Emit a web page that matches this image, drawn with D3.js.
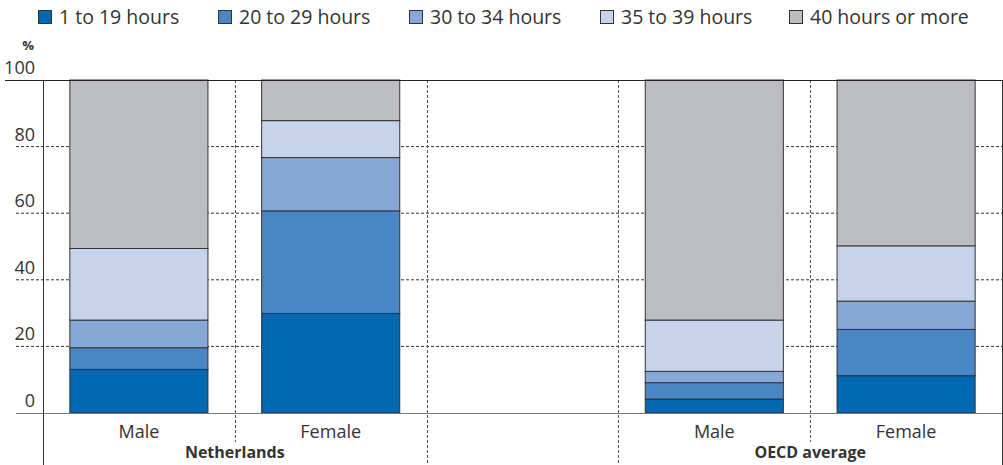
<!DOCTYPE html>
<html>
<head>
<meta charset="utf-8">
<script src="https://cdn.jsdelivr.net/npm/d3@7"></script>
<style>
  body { margin: 0; background: #fff; }
  svg text { font-family: "Open Sans", sans-serif; fill: #333; }
</style>
</head>
<body>
<div id="chart"></div>
<script>
// data (percent of employed, by usual weekly hours)
var groups = ["Netherlands", "OECD average"];
var categories = ["NL_Male", "NL_Female", "gap", "OECD_Male", "OECD_Female"];
var categoryLabels = ["Male", "Female", "", "Male", "Female"];
var series = ["1 to 19 hours", "20 to 29 hours", "30 to 34 hours", "35 to 39 hours", "40 hours or more"];
var hours1to19   = [13.1, 29.9, null, 4.2, 11.2];
var hours20to29  = [6.5, 30.8, null, 4.9, 13.9];
var hours30to34  = [8.3, 16.0, null, 3.4, 8.5];
var hours35to39  = [21.5, 11.1, null, 15.4, 16.6];
var hours40plus  = [50.6, 12.2, null, 72.1, 49.8];
var yTicks = [0, 20, 40, 60, 80, 100];

var colors = ["#0068b3", "#4a86c5", "#87a8d6", "#c6d3ea", "#bbbdc1"];

var W = 1003, H = 465;
var svg = d3.select("#chart").append("svg")
    .attr("width", W)
    .attr("height", H);

var x = d3.scaleBand()
    .domain(categories)
    .range([43, 1002])
    .paddingInner(0.28)
    .paddingOuter(0.14);

var y = d3.scaleLinear()
    .domain([0, 100])
    .range([413, 80]);

// build rows for stacking
var rows = categories.map(function(c, i) {
  return {
    cat: c,
    "1 to 19 hours": hours1to19[i] || 0,
    "20 to 29 hours": hours20to29[i] || 0,
    "30 to 34 hours": hours30to34[i] || 0,
    "35 to 39 hours": hours35to39[i] || 0,
    "40 hours or more": hours40plus[i] || 0
  };
}).filter(function(d) { return d.cat !== "gap"; });

var stacked = d3.stack().keys(series)(rows);

// horizontal gridlines
svg.append("g")
  .selectAll("line")
  .data(yTicks.filter(function(t) { return t > 0 && t < 100; }))
  .enter().append("line")
    .attr("x1", 16).attr("x2", 1002)
    .attr("y1", function(d) { return y(d); })
    .attr("y2", function(d) { return y(d); })
    .attr("stroke", "#333")
    .attr("stroke-width", 1)
    .attr("stroke-dasharray", "3,2");

// vertical separators between slots
var step = x.step();
var slotEdges = categories.slice(1).map(function(c) { return x(c) - x.paddingInner() * step / 2; });
svg.append("g")
  .selectAll("line")
  .data(slotEdges)
  .enter().append("line")
    .attr("x1", function(d) { return Math.round(d) + 0.5; })
    .attr("x2", function(d) { return Math.round(d) + 0.5; })
    .attr("y1", 80)
    .attr("y2", function(d, i) { return (i === 0 || i === 3) ? 442 : H; })
    .attr("stroke", "#555")
    .attr("stroke-width", 1)
    .attr("stroke-dasharray", "3,2");

// bars
svg.append("g")
  .selectAll("g")
  .data(stacked)
  .enter().append("g")
    .attr("fill", function(d, i) { return colors[i]; })
  .selectAll("rect")
  .data(function(d) { return d; })
  .enter().append("rect")
    .attr("x", function(d) { return x(d.data.cat); })
    .attr("y", function(d) { return y(d[1]); })
    .attr("height", function(d) { return y(d[0]) - y(d[1]); })
    .attr("width", x.bandwidth())
    .attr("stroke", "#333")
    .attr("stroke-width", 1);

// frame lines
svg.append("line")
  .attr("x1", 5).attr("x2", 1002).attr("y1", 80.5).attr("y2", 80.5)
  .attr("stroke", "#222").attr("stroke-width", 1.2);
svg.append("line")
  .attr("x1", 16).attr("x2", 1002).attr("y1", 413.5).attr("y2", 413.5)
  .attr("stroke", "#777").attr("stroke-width", 1.2);
svg.append("line")
  .attr("x1", 43.5).attr("x2", 43.5).attr("y1", 80).attr("y2", H)
  .attr("stroke", "#333").attr("stroke-width", 1);
svg.append("line")
  .attr("x1", 1002.5).attr("x2", 1002.5).attr("y1", 80).attr("y2", H)
  .attr("stroke", "#333").attr("stroke-width", 1);

// y tick labels sit above their gridline
svg.append("g")
  .selectAll("text")
  .data(yTicks)
  .enter().append("text")
    .attr("x", 35)
    .attr("y", function(d) { return y(d) - 6; })
    .attr("text-anchor", "end")
    .attr("font-size", "18px")
    .text(function(d) { return d; });

svg.append("text")
  .attr("x", 28).attr("y", 50)
  .attr("text-anchor", "middle")
  .attr("font-size", "13px")
  .attr("font-weight", "bold")
  .text("%");

// category labels
svg.append("g")
  .selectAll("text")
  .data(categories)
  .enter().append("text")
    .attr("x", function(d) { return x(d) + x.bandwidth() / 2; })
    .attr("y", 438)
    .attr("text-anchor", "middle")
    .attr("font-size", "18px")
    .text(function(d, i) { return categoryLabels[i]; });

// group labels, centred between the two bars of each group
var groupCenters = [slotEdges[0], slotEdges[3]];
svg.append("g")
  .selectAll("text")
  .data(groups)
  .enter().append("text")
    .attr("x", function(d, i) { return groupCenters[i]; })
    .attr("y", 458)
    .attr("text-anchor", "middle")
    .attr("font-size", "16px")
    .attr("font-weight", "bold")
    .text(function(d) { return d; });

// legend
var legendX = [38, 218, 409, 600, 789];
var legend = svg.append("g");
legend.selectAll("g")
  .data(series)
  .enter().append("g")
    .attr("transform", function(d, i) { return "translate(" + legendX[i] + ",10)"; })
  .call(function(g) {
    g.append("rect")
      .attr("x", 0.5).attr("y", 0.5)
      .attr("width", 13).attr("height", 13)
      .attr("fill", function(d, i) { return colors[i]; })
      .attr("stroke", "#333");
    g.append("text")
      .attr("x", 21)
      .attr("y", 14)
      .attr("font-size", "19.5px")
      .text(function(d) { return d; });
  });
</script>
</body>
</html>
